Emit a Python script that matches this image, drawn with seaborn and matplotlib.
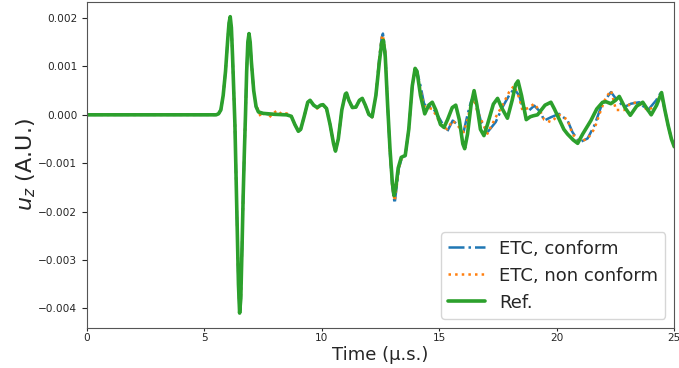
import matplotlib
matplotlib.use('Agg')
import matplotlib.pyplot as plt
import seaborn as sns

#Shared start of the signal (all three curves coincide here)
t_early = [0.0, 5.0, 5.5, 5.6, 5.7, 5.8, 5.9, 6.0, 6.05, 6.1, 6.15, 6.2, 6.25,
           6.3, 6.35, 6.4, 6.45, 6.5, 6.55, 6.6, 6.65, 6.7, 6.75, 6.8, 6.85,
           6.9, 6.95, 7.0, 7.1]
u_early = [0.0, 0.0, 0.0, 0.00002, 0.0001, 0.0004, 0.0009, 0.0016, 0.0019,
           0.00203, 0.0018, 0.0012, 0.0005, -0.0002, -0.0013, -0.0025, -0.0035,
           -0.0041, -0.0038, -0.0028, -0.0017, -0.0008, 0.0, 0.0009, 0.0015,
           0.00168, 0.0015, 0.0011, 0.0005]

#Reference solution, after the main pulse
t_ref_late = [7.2, 7.3, 7.5, 8.0, 8.5, 8.7, 8.85, 9.0, 9.1, 9.25, 9.4, 9.5,
              9.65, 9.8, 9.95, 10.05, 10.2, 10.35, 10.5, 10.58, 10.7, 10.85,
              11.0, 11.05, 11.15, 11.3, 11.45, 11.6, 11.72, 11.85, 12.0, 12.14,
              12.3, 12.45, 12.55, 12.62, 12.7, 12.8, 12.9, 13.0, 13.07, 13.15,
              13.25, 13.38, 13.55, 13.7, 13.85, 13.97, 14.05, 14.2, 14.38,
              14.55, 14.7, 14.85, 15.05, 15.2, 15.35, 15.55, 15.7, 15.85, 16.0,
              16.08, 16.2, 16.35, 16.48, 16.6, 16.75, 16.9, 17.05, 17.3, 17.48,
              17.65, 17.9, 18.1, 18.25, 18.35, 18.5, 18.7, 18.87, 19.0, 19.18,
              19.5, 19.75, 19.9, 20.07, 20.3, 20.46, 20.7, 20.89, 21.1, 21.45,
              21.7, 21.95, 22.1, 22.3, 22.5, 22.66, 22.9, 23.13, 23.4, 23.66,
              23.85, 24.02, 24.25, 24.46, 24.6, 24.74, 24.88, 25.0]
u_ref_late = [0.00017, 0.00006, 0.00003, 0.00001, 0.0, -0.00003, -0.0002,
              -0.00034, -0.0003, -0.00003, 0.00026, 0.0003, 0.0002, 0.00015,
              0.0002, 0.00021, 0.00013, -0.0002, -0.0006, -0.00075, -0.0005,
              0.0001, 0.00043, 0.00045, 0.0003, 0.00015, 0.00016, 0.0003,
              0.00034, 0.0002, 0.00001, -0.00004, 0.0004, 0.0011, 0.0015,
              0.00154, 0.0012, 0.0002, -0.0007, -0.0014, -0.00167, -0.0015,
              -0.0011, -0.00088, -0.00084, -0.0003, 0.0006, 0.00096, 0.0009,
              0.0004, 0.00002, 0.0002, 0.00026, 0.0001, -0.0002, -0.00026,
              -0.0001, 0.00015, 0.0002, -0.0001, -0.0006, -0.0007, -0.0004,
              0.0002, 0.0005, 0.0002, -0.0003, -0.00043, -0.0002, 0.00022,
              0.00034, 0.00015, -0.00007, 0.0003, 0.00063, 0.0007, 0.0004,
              -0.0001, -0.00004, -0.00002, 0.0, 0.0002, 0.00026, 0.00012,
              -0.00006, -0.0003, -0.0004, -0.00052, -0.00059, -0.0004,
              -0.00012, 0.00012, 0.00026, 0.00027, 0.00023, 0.0003, 0.00038,
              0.00015, -0.00001, 0.00018, 0.00026, 0.00012, 0.0, 0.0002,
              0.00046, 0.0001, -0.00022, -0.0005, -0.00066]

#ETC solutions, after the main pulse
t_etc_late = [7.2, 7.3, 7.4, 7.5, 7.6, 7.75, 7.9, 8.1, 8.3, 8.5, 8.7, 8.85,
              9.0, 9.1, 9.25, 9.4, 9.5, 9.65, 9.8, 9.95, 10.05, 10.2, 10.35,
              10.5, 10.58, 10.7, 10.85, 11.0, 11.05, 11.15, 11.3, 11.45, 11.6,
              11.72, 11.85, 12.0, 12.14, 12.3, 12.45, 12.55, 12.6, 12.7, 12.8,
              12.9, 13.0, 13.1, 13.18, 13.28, 13.4, 13.55, 13.7, 13.85, 13.97,
              14.05, 14.2, 14.35, 14.5, 14.7, 14.85, 15.06, 15.33, 15.57,
              15.77, 16.04, 16.2, 16.34, 16.48, 16.6, 16.76, 17.05, 17.4,
              17.69, 17.97, 18.18, 18.4, 18.54, 18.82, 19.04, 19.32, 19.46,
              19.75, 20.1, 20.46, 20.67, 20.96, 21.31, 21.6, 21.88, 22.09,
              22.31, 22.52, 22.87, 23.16, 23.51, 23.87, 24.23, 24.44, 24.6,
              24.74, 24.88, 25.0]
u_conform_late = [0.00017, 0.00006, 0.00003, 0.00003, 0.00002, 0.00001,
                  0.00001, 0.00001, 0.0, 0.0, -0.00003, -0.0002, -0.00034,
                  -0.0003, -0.00003, 0.00026, 0.0003, 0.0002, 0.00014, 0.0002,
                  0.00021, 0.00013, -0.0002, -0.0006, -0.00075, -0.0005,
                  0.0001, 0.00043, 0.00045, 0.0003, 0.00015, 0.00016, 0.0003,
                  0.00034, 0.0002, 0.0, -0.00005, 0.0004, 0.0012, 0.0016,
                  0.00168, 0.0013, 0.0002, -0.0008, -0.0015, -0.00183,
                  -0.0015, -0.0011, -0.0009, -0.00085, -0.0003, 0.0006,
                  0.00096, 0.0009, 0.0006, 0.00023, 0.00015, 0.00016, 0.00005,
                  -0.00012, -0.00035, -0.00012, -0.0002, -0.00034, 0.0,
                  0.00026, 0.00042, 0.0002, -0.00012, -0.00036, -0.00015,
                  0.00016, 0.0004, 0.00054, 0.0004, 0.00016, 0.00009, 0.00019,
                  0.00005, -0.00012, -0.00005, 0.00002, -0.00012, -0.00036,
                  -0.00057, -0.00049, -0.00022, 0.00016, 0.00033, 0.00047,
                  0.00033, 0.00016, 0.00023, 0.00026, 0.00009, 0.0003,
                  0.00047, 0.0001, -0.00022, -0.0005, -0.00066]
u_nonconform_late = [0.0002, 0.00009, -0.00005, 0.00003, 0.00008, -0.00006,
                     0.00002, 0.00009, 0.00001, 0.00003, -0.00003, -0.0002,
                     -0.00032, -0.0003, -0.00003, 0.00025, 0.0003, 0.0002,
                     0.00013, 0.0002, 0.0002, 0.00012, -0.0002, -0.0006,
                     -0.00073, -0.0005, 0.0001, 0.00042, 0.00045, 0.0003,
                     0.00014, 0.00016, 0.0003, 0.00034, 0.0002, 0.0, -0.00005,
                     0.0004, 0.0012, 0.0016, 0.00165, 0.0013, 0.0002, -0.0008,
                     -0.0015, -0.00178, -0.0015, -0.0011, -0.0009, -0.00085,
                     -0.0003, 0.0006, 0.00096, 0.0009, 0.0005, 0.00018,
                     0.00015, 0.00012, 0.0, -0.0002, -0.0003, -0.00012,
                     -0.00022, -0.00036, -0.0001, 0.0002, 0.00033, 0.0001,
                     -0.00008, -0.00039, -0.00005, 0.0002, 0.00047, 0.0006,
                     0.00035, 0.00009, 0.00015, 0.00023, 0.00005, -0.0001,
                     -0.00015, 0.0, -0.0001, -0.0004, -0.00055, -0.0005,
                     -0.00029, 0.0001, 0.00036, 0.0005, 0.0001, 0.0001,
                     0.00025, 0.00025, 0.00009, 0.0002, 0.00045, 0.0001,
                     -0.00022, -0.0005, -0.00066]

#Full series
t_ref = t_early + t_ref_late
u_ref = u_early + u_ref_late
t_etc = t_early + t_etc_late
u_conform = u_early + u_conform_late
u_nonconform = u_early + u_nonconform_late

sns.set_style('ticks')
plt.rcParams['font.family'] = ['DejaVu Sans']

f, ax = plt.subplots(figsize=(6.79, 3.68), dpi=100)

sns.lineplot(x=t_etc, y=u_conform, ax=ax, color='#1f77b4', linestyle='-.',
             linewidth=1.8, label='ETC, conform', sort=False, estimator=None)
sns.lineplot(x=t_etc, y=u_nonconform, ax=ax, color='#ff7f0e', linestyle=':',
             linewidth=1.8, label='ETC, non conform', sort=False, estimator=None)
sns.lineplot(x=t_ref, y=u_ref, ax=ax, color='#2ca02c', linestyle='-',
             linewidth=2.6, label='Ref.', sort=False, estimator=None)

#Axis limits & labels
ax.set_xlim(0, 25)
ax.set_xlabel('Time (µ.s.)', fontsize=13, labelpad=2)
ax.set_ylabel('$u_z$ (A.U.)', fontsize=16, labelpad=0)
ax.tick_params(labelsize=7.6)
ax.tick_params(axis='x', length=2.5, pad=1.5)
for s in ax.spines.values():
    s.set_color('#555555')
ax.legend(loc='lower right', fontsize=13)

f.subplots_adjust(left=0.128, right=0.993, top=0.995, bottom=0.109)
f.savefig('out.png', dpi=100)
